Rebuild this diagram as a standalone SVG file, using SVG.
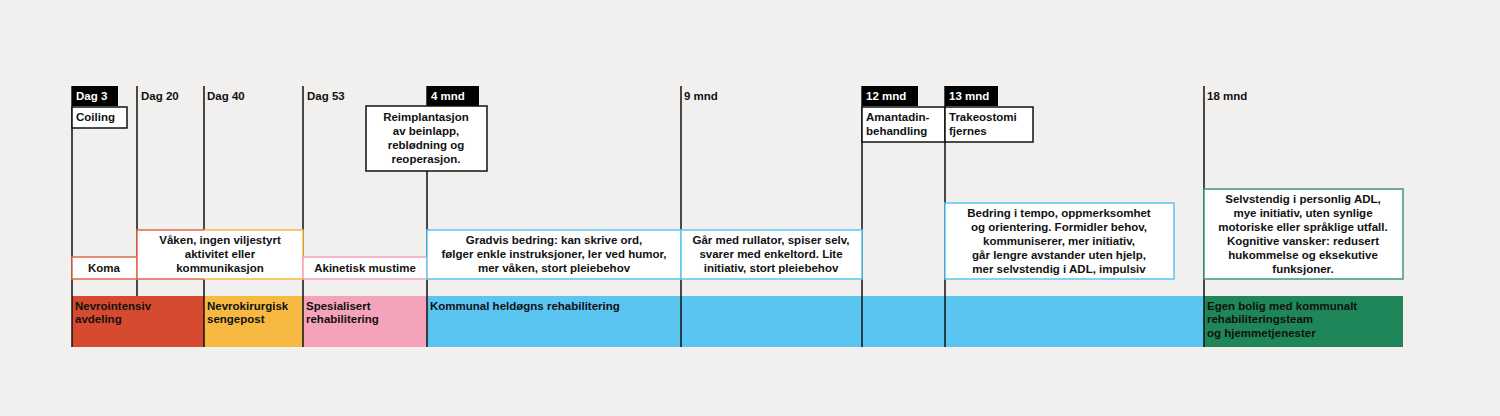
<svg xmlns="http://www.w3.org/2000/svg" width="1500" height="416" viewBox="0 0 1500 416">
<style>
text{font-family:"Liberation Sans",Arial,sans-serif;font-weight:bold;font-size:11.5px;fill:#111}
.w{fill:#fff}
.c{text-anchor:middle}
.v{stroke:#111;stroke-width:1.5}
.bx{fill:#fff;stroke:#111;stroke-width:1.5}
.tag{fill:#000}
</style>
<rect width="1500" height="416" fill="#f2f0ee"/>
<g id="bands">
<rect x="72" y="296" width="132" height="51" fill="#d64b30"/>
<rect x="204" y="296" width="99" height="51" fill="#f8b942"/>
<rect x="303" y="296" width="124" height="51" fill="#f4a3bb"/>
<rect x="427" y="296" width="777" height="51" fill="#5bc5f2"/>
<rect x="1204" y="296" width="199" height="51" fill="#1f8659"/>
<text x="75" y="310">Nevrointensiv</text><text x="75" y="323">avdeling</text>
<text x="207" y="310">Nevrokirurgisk</text><text x="207" y="323">sengepost</text>
<text x="306" y="310">Spesialisert</text><text x="306" y="323">rehabilitering</text>
<text x="430" y="310">Kommunal heldøgns rehabilitering</text>
<text x="1207" y="310">Egen bolig med kommunalt</text><text x="1207" y="323">rehabiliteringsteam</text><text x="1207" y="337">og hjemmetjenester</text>
</g>
<g id="connectors">
<line class="v" x1="72" y1="86" x2="72" y2="347"/>
<line class="v" x1="137" y1="86" x2="137" y2="296"/>
<line class="v" x1="204" y1="86" x2="204" y2="347"/>
<line class="v" x1="303" y1="86" x2="303" y2="347"/>
<line class="v" x1="427" y1="86" x2="427" y2="347"/>
<line class="v" x1="681" y1="86" x2="681" y2="347"/>
<line class="v" x1="862" y1="86" x2="862" y2="347"/>
<line class="v" x1="945" y1="86" x2="945" y2="347"/>
<line class="v" x1="1204" y1="86" x2="1204" y2="347"/>
</g>
<g id="dates">
<rect class="tag" x="72" y="86" width="46" height="20"/><text class="w" x="76" y="100">Dag 3</text>
<text x="141" y="100">Dag 20</text>
<text x="207" y="100">Dag 40</text>
<text x="307" y="100">Dag 53</text>
<rect class="tag" x="427" y="86" width="52" height="20"/><text class="w" x="431" y="100">4 mnd</text>
<text x="684" y="100">9 mnd</text>
<rect class="tag" x="862" y="86" width="56" height="20"/><text class="w" x="866" y="100">12 mnd</text>
<rect class="tag" x="945" y="86" width="53" height="20"/><text class="w" x="949" y="100">13 mnd</text>
<text x="1207" y="100">18 mnd</text>
</g>
<g id="events">
<rect class="bx" x="72" y="107" width="55" height="21"/><text x="76" y="121">Coiling</text>
<rect class="bx" x="366" y="106" width="121" height="65"/>
<text class="c" x="426" y="121">Reimplantasjon</text><text class="c" x="426" y="135">av beinlapp,</text><text class="c" x="426" y="149">reblødning og</text><text class="c" x="426" y="163">reoperasjon.</text>
<rect class="bx" x="862" y="107" width="83" height="35"/><text x="866" y="121">Amantadin-</text><text x="866" y="135">behandling</text>
<rect class="bx" x="945" y="107" width="88" height="35"/><text x="949" y="121">Trakeostomi</text><text x="949" y="135">fjernes</text>
</g>
<g id="states">
<rect x="72" y="257" width="65" height="22" fill="#fff" stroke="#e06a4f" stroke-width="1.5"/><text class="c" x="104" y="272">Koma</text>
<rect x="137" y="230" width="166" height="49" fill="#fff"/>
<path d="M204 230H137V279H204" fill="none" stroke="#e06a4f" stroke-width="1.5"/>
<path d="M204 230H303V279H204" fill="none" stroke="#f8b942" stroke-width="1.5"/>
<text class="c" x="220" y="244">Våken, ingen viljestyrt</text><text class="c" x="220" y="258">aktivitet eller</text><text class="c" x="220" y="272">kommunikasjon</text>
<rect x="303" y="257" width="124" height="22" fill="#fff" stroke="#f4a3bb" stroke-width="1.5"/><text class="c" x="365" y="272">Akinetisk mustime</text>
<rect x="427" y="230" width="254" height="49" fill="#fff" stroke="#5bc5f2" stroke-width="1.5"/>
<text class="c" x="554" y="244">Gradvis bedring: kan skrive ord,</text><text class="c" x="554" y="258">følger enkle instruksjoner, ler ved humor,</text><text class="c" x="554" y="272">mer våken, stort pleiebehov</text>
<rect x="681" y="230" width="181" height="49" fill="#fff" stroke="#5bc5f2" stroke-width="1.5"/>
<text class="c" x="771" y="244">Går med rullator, spiser selv,</text><text class="c" x="771" y="258">svarer med enkeltord. Lite</text><text class="c" x="771" y="272">initiativ, stort pleiebehov</text>
<rect x="945" y="203" width="229" height="76" fill="#fff" stroke="#5bc5f2" stroke-width="1.5"/>
<text class="c" x="1059" y="217">Bedring i tempo, oppmerksomhet</text><text class="c" x="1059" y="231">og orientering. Formidler behov,</text><text class="c" x="1059" y="245">kommuniserer, mer initiativ,</text><text class="c" x="1059" y="259">går lengre avstander uten hjelp,</text><text class="c" x="1059" y="273">mer selvstendig i ADL, impulsiv</text>
<rect x="1204" y="189" width="199" height="90" fill="#fff" stroke="#3a9a76" stroke-width="1.5"/>
<text class="c" x="1303" y="203">Selvstendig i personlig ADL,</text><text class="c" x="1303" y="217">mye initiativ, uten synlige</text><text class="c" x="1303" y="231">motoriske eller språklige utfall.</text><text class="c" x="1303" y="245">Kognitive vansker: redusert</text><text class="c" x="1303" y="259">hukommelse og eksekutive</text><text class="c" x="1303" y="273">funksjoner.</text>
</g>
</svg>
